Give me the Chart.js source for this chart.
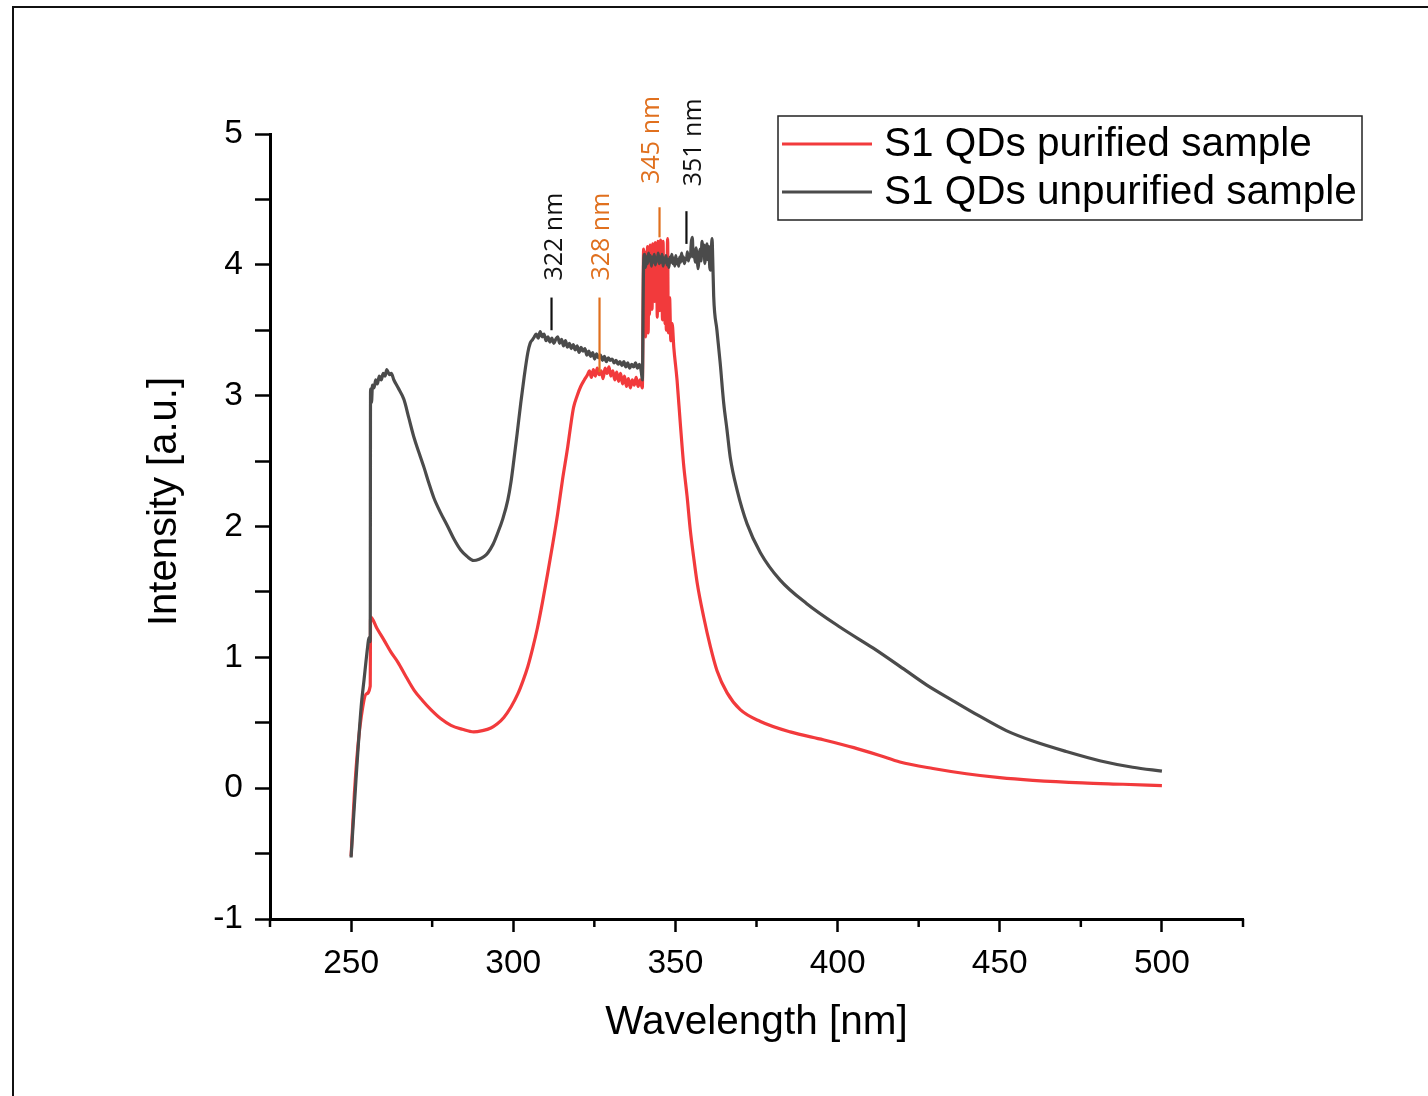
<!DOCTYPE html>
<html>
<head>
<meta charset="utf-8">
<script src="https://cdn.jsdelivr.net/npm/chart.js@4.4.1/dist/chart.umd.min.js"></script>
<style>
  html, body { margin: 0; padding: 0; background: #fff; overflow: hidden; }
  #frame { position: absolute; left: 12px; top: 6px; width: 1500px; height: 1200px; border: 2.5px solid #111; }
  #wrap { position: absolute; left: 0; top: 0; width: 1428px; height: 1096px; }
</style>
</head>
<body>
<div id="frame"></div>
<div id="wrap"><canvas id="chart" width="1428" height="1096"></canvas></div>
<script>
// S1 QDs purified sample (red)
const purifiedNm = [
  250, 251, 252.1, 253.6, 254.6, 255.9, 256.0, 258, 260.2, 262.3, 264.5, 267, 269.4, 272, 274.6,
  277.7, 280.8, 284.3, 287.8, 290.5, 293.1, 295, 297.1, 299.3, 301.4, 303, 304.5, 306, 307.5, 309,
  310.6, 312.2, 313.7, 315.2, 316.8, 317.7, 318.6, 319.7, 320.8, 321.9, 322.9,
  323.5, 324.1, 324.7, 325.3, 325.9, 326.5, 327.1, 327.7, 328.3, 328.9, 329.5, 330.1, 330.7, 331.3,
  331.9, 332.5, 333.1, 333.7, 334.3, 334.9, 335.5, 336.1, 336.7, 337.3, 337.9, 338.5, 339.1, 339.8,
  340.2, 340.4, 340.6, 340.8, 341.0, 341.2, 341.4, 341.6, 341.8, 342.0, 342.2, 342.4, 342.6, 342.8,
  343.0, 343.2, 343.4, 343.6, 343.8, 344.0, 344.2, 344.4, 344.6, 344.8, 345.0, 345.2, 345.4, 345.6,
  345.8, 346.0, 346.2, 346.4, 346.6, 346.8, 347.0, 347.2, 347.6, 347.8, 348.2, 348.6, 349.0, 349.5,
  350.5, 351.5, 352.5, 353.6, 354.6, 355.6, 356.7, 358.7, 360.8, 362.8, 365.9, 370, 376.2, 385.4,
  395.6, 405, 413, 419.2, 429.4, 439.7, 450, 460.2, 475.5, 488, 500,
];
const purifiedInt = [
  -0.52, -0.05, 0.32, 0.62, 0.72, 0.78, 1.31, 1.22, 1.13, 1.04, 0.96, 0.85, 0.75, 0.67, 0.60,
  0.53, 0.48, 0.45, 0.43, 0.44, 0.46, 0.49, 0.54, 0.62, 0.72, 0.82, 0.93, 1.07, 1.23, 1.42,
  1.64, 1.87, 2.10, 2.36, 2.61, 2.77, 2.91, 3.00, 3.07, 3.12, 3.16,
  3.19, 3.14, 3.20, 3.15, 3.21, 3.16, 3.19, 3.13, 3.21, 3.17, 3.22, 3.15, 3.19, 3.12,
  3.18, 3.11, 3.17, 3.09, 3.15, 3.07, 3.13, 3.06, 3.12, 3.08, 3.14, 3.07, 3.12, 3.06,
  4.12, 3.55, 4.08, 3.45, 4.10, 3.70, 4.14, 3.48, 4.05, 3.62, 4.15, 3.80, 4.12, 3.66,
  4.16, 3.90, 4.10, 3.72, 4.17, 3.95, 4.14, 3.60, 4.18, 3.85, 4.16, 3.65, 4.19, 3.92,
  4.12, 3.58, 4.18, 3.70, 4.05, 3.55, 3.95, 3.50, 4.20, 3.48, 3.75, 3.42, 3.55, 3.37,
  3.12, 2.79, 2.48, 2.23, 1.97, 1.77, 1.57, 1.31, 1.08, 0.90, 0.73, 0.60, 0.51, 0.43,
  0.37, 0.31, 0.25, 0.20, 0.15, 0.11, 0.08, 0.06, 0.04, 0.03, 0.02,
];

// S1 QDs unpurified sample (dark grey)
const unpurifiedNm = [
  250, 251.5, 253.1, 254, 255.1, 255.5, 255.9, 256.0, 256.3, 256.6, 257.1, 257.6, 258.1, 258.7,
  259.3, 259.9, 260.5, 261.0, 261.4, 261.9, 262.4, 263.2, 264.5, 266.3, 267.8, 269.4, 271, 272.5,
  274, 275.5, 277.7, 279.8, 281.8, 283.8, 285.8, 287.8, 289.5, 291, 292.2, 293.7, 295.2, 296.8,
  298.3, 299.3, 300.2, 301.2, 302.3, 303.4, 304.5, 305.2, 306.0,
  306.5, 307.1, 307.7, 308.3, 308.9, 309.5, 310.1, 310.7, 311.3, 311.9, 312.5, 313.1, 313.7, 314.3,
  314.9, 315.5, 316.1, 316.7, 317.3, 317.9, 318.5, 319.1, 319.7, 320.3, 320.9, 321.5, 322.1, 322.7,
  323.3, 323.9, 324.5, 325.1, 325.7, 326.3, 326.9, 327.5, 328.1, 328.7, 329.3, 329.9, 330.5, 331.1,
  331.7, 332.3, 332.9, 333.5, 334.1, 334.7, 335.3, 335.9, 336.5, 337.1, 337.7, 338.3, 338.9, 339.5,
  339.8,
  340.2, 340.5, 340.8, 341.1, 341.4, 341.7, 342.0, 342.3, 342.6, 342.9, 343.2, 343.5, 343.8, 344.1,
  344.4, 344.7, 345.0, 345.3, 345.6, 345.9, 346.2, 346.5, 346.8, 347.1, 347.4, 347.7, 348.0, 348.3,
  348.6, 348.9, 349.2, 349.5, 349.8, 350.1, 350.4, 350.7, 351.0, 351.3, 351.6, 351.9, 352.2, 352.5,
  352.8, 353.1, 353.4, 353.7, 354.0, 354.3, 354.6, 354.9, 355.2, 355.5, 355.8, 356.1, 356.4, 356.7,
  357.0, 357.3, 357.6, 357.9, 358.2, 358.5, 358.8, 359.1, 359.4, 359.7, 360.0, 360.3, 360.6, 360.9,
  361.1, 361.3, 361.5,
  361.8, 362.8, 363.8, 364.9, 365.9, 366.9, 369, 372.1, 376.2, 382.3, 390.5, 400.8, 411, 421,
  427.4, 435.5, 443.8, 452, 460.2, 470.5, 480.8, 491, 500,
];
const unpurifiedInt = [
  -0.53, 0.06, 0.62, 0.83, 1.08, 1.15, 1.12, 3.05, 2.95, 3.08, 3.06, 3.12, 3.09, 3.15,
  3.12, 3.17, 3.15, 3.20, 3.18, 3.16, 3.17, 3.12, 3.06, 2.97, 2.83, 2.68, 2.56, 2.45,
  2.33, 2.22, 2.10, 2.00, 1.90, 1.82, 1.77, 1.74, 1.75, 1.77, 1.80, 1.86, 1.95, 2.06,
  2.20, 2.34, 2.51, 2.71, 2.94, 3.15, 3.33, 3.40, 3.43,
  3.45, 3.47, 3.44, 3.49, 3.45, 3.47, 3.42, 3.45, 3.41, 3.44, 3.40, 3.43, 3.45, 3.40,
  3.43, 3.38, 3.42, 3.37, 3.40, 3.36, 3.39, 3.35, 3.38, 3.33, 3.37, 3.34, 3.36, 3.31,
  3.34, 3.30, 3.33, 3.28, 3.32, 3.29, 3.31, 3.27, 3.30, 3.26, 3.29, 3.27, 3.28, 3.25,
  3.27, 3.24, 3.26, 3.23, 3.26, 3.22, 3.25, 3.21, 3.24, 3.22, 3.25, 3.21, 3.24, 3.18,
  3.12,
  4.02, 4.08, 3.98, 4.06, 4.01, 4.09, 4.03, 4.07, 3.99, 4.06, 4.02, 4.08, 4.00, 4.05,
  4.03, 4.09, 4.01, 4.06, 4.02, 4.08, 3.99, 4.05, 4.02, 4.07, 4.00, 4.04, 3.98, 4.06,
  4.02, 4.08, 4.01, 4.05, 3.99, 4.07, 4.01, 4.04, 3.99, 4.06, 4.02, 4.09, 4.03, 4.06,
  4.01, 4.05, 4.04, 4.10, 4.03, 4.08, 4.06, 4.17, 4.21, 4.06, 4.10, 4.02, 4.13, 4.05,
  3.97, 4.06, 4.12, 4.03, 4.18, 4.08, 4.15, 4.01, 4.10, 4.16, 4.04, 4.14, 3.98, 3.96,
  4.12, 4.20, 4.05,
  3.76, 3.50, 3.25, 2.94, 2.74, 2.53, 2.28, 2.02, 1.80, 1.59, 1.41, 1.23, 1.07, 0.90,
  0.79, 0.67, 0.55, 0.44, 0.36, 0.28, 0.21, 0.16, 0.13,
];

const xTickLabels = [250, 300, 350, 400, 450, 500];
const yTickLabels = [-1, 0, 1, 2, 3, 4, 5];

// peak annotations: label, marker stem (nm, from, to), text anchor (nm, intensity)
const peakLabels = ["322 nm", "328 nm", "345 nm", "351 nm"];
const peakMarkNm = [311.8, 326.6, 345.1, 353.4];
const peakMarkFrom = [3.5, 3.18, 4.21, 4.16];
const peakMarkTo = [3.75, 3.75, 4.44, 4.41];
const peakTextNm = [314.9, 329.4, 344.8, 358.0];
const peakTextAt = [3.88, 3.88, 4.62, 4.6];

const RED = "#f23a3c";
const GREY = "#4b4b4b";
const ORANGE = "#e0701e";
const peakColors = ["#111", ORANGE, ORANGE, "#111"];
const AXIS_FONT = "'Liberation Sans', Arial, sans-serif";

function points(xs, ys) {
  return xs.map((x, i) => ({ x: x, y: ys[i] }));
}

const extras = {
  id: "extras",
  afterDraw(chart) {
    const ctx = chart.ctx;
    const xs = chart.scales.x;
    const ys = chart.scales.y;
    const area = chart.chartArea;
    ctx.save();

    // minor ticks on x axis
    ctx.strokeStyle = "#000";
    ctx.lineWidth = 2.5;
    xs.ticks.forEach((t) => {
      if (xTickLabels.includes(t.value)) return;
      const px = xs.getPixelForValue(t.value);
      ctx.beginPath();
      ctx.moveTo(px, area.bottom);
      ctx.lineTo(px, area.bottom + 8);
      ctx.stroke();
    });

    // y title, sits a little above the axis middle like the original
    ctx.save();
    ctx.translate(176, (area.top + area.bottom) / 2 - 25);
    ctx.rotate(-Math.PI / 2);
    ctx.fillStyle = "#000";
    ctx.font = "40px " + AXIS_FONT;
    ctx.textAlign = "center";
    ctx.textBaseline = "alphabetic";
    ctx.fillText("Intensity [a.u.]", 0, 0);
    ctx.restore();

    // peak markers and labels
    peakLabels.forEach((lab, i) => {
      const px = xs.getPixelForValue(peakMarkNm[i]);
      ctx.strokeStyle = peakColors[i];
      ctx.lineWidth = 2.2;
      ctx.beginPath();
      ctx.moveTo(px, ys.getPixelForValue(peakMarkFrom[i]));
      ctx.lineTo(px, ys.getPixelForValue(peakMarkTo[i]));
      ctx.stroke();

      ctx.save();
      ctx.translate(xs.getPixelForValue(peakTextNm[i]), ys.getPixelForValue(peakTextAt[i]));
      ctx.rotate(-Math.PI / 2);
      ctx.fillStyle = peakColors[i];
      ctx.font = "25px 'Open Sans', sans-serif";
      ctx.textAlign = "left";
      ctx.textBaseline = "alphabetic";
      ctx.fillText(lab, 0, 0);
      ctx.restore();
    });

    // legend box
    const bx = 778, by = 116, bw = 584, bh = 104;
    ctx.strokeStyle = "#222";
    ctx.lineWidth = 1.5;
    ctx.strokeRect(bx, by, bw, bh);
    chart.data.datasets.forEach((ds, i) => {
      const cy = by + 28 + i * 48;
      ctx.strokeStyle = ds.borderColor;
      ctx.lineWidth = 3;
      ctx.beginPath();
      ctx.moveTo(bx + 4, cy);
      ctx.lineTo(bx + 94, cy);
      ctx.stroke();
      ctx.fillStyle = "#000";
      ctx.font = "40.5px " + AXIS_FONT;
      ctx.textAlign = "left";
      ctx.textBaseline = "middle";
      ctx.fillText(ds.label, bx + 106, cy + 1);
    });
    ctx.restore();
  },
};

new Chart(document.getElementById("chart"), {
  type: "line",
  data: {
    datasets: [
      {
        label: "S1 QDs purified sample",
        data: points(purifiedNm, purifiedInt),
        borderColor: RED,
        borderWidth: 3.2,
        pointRadius: 0,
        cubicInterpolationMode: "monotone",
        borderJoinStyle: "round",
        order: 1,
      },
      {
        label: "S1 QDs unpurified sample",
        data: points(unpurifiedNm, unpurifiedInt),
        borderColor: GREY,
        borderWidth: 3.2,
        pointRadius: 0,
        cubicInterpolationMode: "monotone",
        borderJoinStyle: "round",
        order: 0,
      },
    ],
  },
  options: {
    responsive: false,
    animation: false,
    layout: { padding: { left: 0, top: 134, right: 185, bottom: 0 } },
    plugins: { legend: { display: false }, tooltip: { enabled: false } },
    scales: {
      x: {
        type: "linear",
        min: 225,
        max: 525,
        afterFit: (s) => { s.height = 177; },
        border: { display: true, color: "#000", width: 3 },
        grid: {
          drawOnChartArea: false,
          tickLength: 13,
          tickWidth: 2.5,
          tickColor: (c) => (c.tick && xTickLabels.includes(c.tick.value) ? "#000" : "rgba(0,0,0,0)"),
        },
        ticks: {
          stepSize: 25,
          autoSkip: false,
          maxRotation: 0,
          padding: 12,
          color: "#000",
          font: { family: AXIS_FONT, size: 33.5 },
          callback: (v) => (xTickLabels.includes(v) ? String(v) : ""),
        },
        title: {
          display: true,
          text: "Wavelength [nm]",
          color: "#000",
          font: { family: AXIS_FONT, size: 40.5 },
          padding: { top: 0, bottom: 49 },
        },
      },
      y: {
        min: -1,
        max: 5,
        afterFit: (s) => { s.width = 270; },
        border: { display: true, color: "#000", width: 3 },
        grid: {
          drawOnChartArea: false,
          tickLength: 15,
          tickWidth: 2.5,
          tickColor: "#000",
        },
        ticks: {
          stepSize: 0.5,
          autoSkip: false,
          padding: 12,
          color: "#000",
          font: { family: AXIS_FONT, size: 33.5 },
          callback: (v) => (yTickLabels.includes(v) ? String(v) : ""),
        },
      },
    },
  },
  plugins: [extras],
});
</script>
</body>
</html>
